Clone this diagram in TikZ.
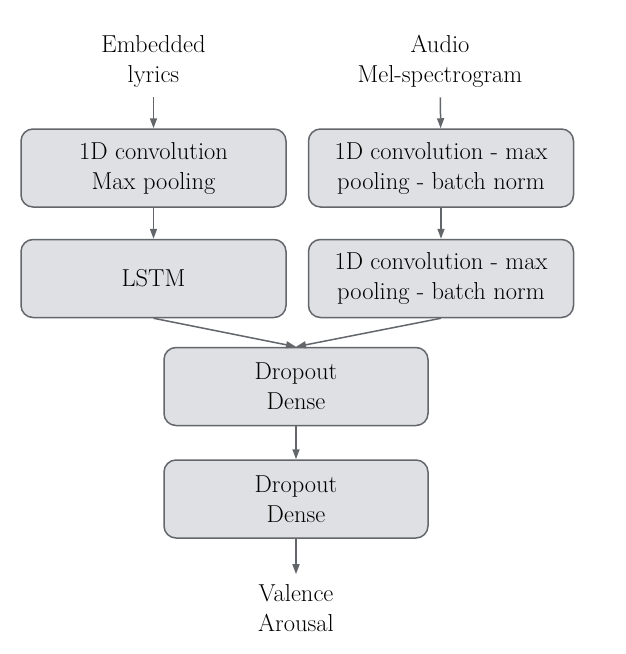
\documentclass[tikz,border=0pt]{standalone}
\usetikzlibrary{arrows.meta,positioning}
\definecolor{NetGray}{HTML}{63666B}
\definecolor{NetFill}{HTML}{DFE0E3}

\begin{document}
\begin{tikzpicture}[
    x=1pt,y=1pt,
    font=\fontsize{24.5}{30}\selectfont,
    blk/.style={rounded corners=12pt,draw=NetGray,line width=1.5pt,fill=NetFill,minimum width=265pt,minimum height=78pt,align=center,inner sep=0pt},
    lbl/.style={align=center,inner xsep=0pt,inner ysep=10pt},
    arr/.style={-{Triangle[length=10pt,width=7pt]},line width=1.5pt,NetGray}
  ]
    \useasboundingbox (0,0) rectangle (626,-654);
    % two input branches
    \node[blk] (conv) at (153.5,-168) {1D convolution\\Max pooling};
    \node[blk,right=21pt of conv] (melconv) {1D convolution - max\\pooling - batch norm};
    \node[blk,below=31pt of conv] (lstm) {LSTM};
    \node[blk,below=31pt of melconv] (melconvb) {1D convolution - max\\pooling - batch norm};
    \node[lbl] (lyrics) at (153.5,-61) {Embedded\\lyrics};
    \node[lbl] (audio) at (440,-61) {Audio\\Mel-spectrogram};
    % merged head
    \node[blk,minimum width=264pt] (dense) at (296,-386.5) {Dropout\\Dense};
    \node[blk,minimum width=264pt,below=33pt of dense] (denseb) {Dropout\\Dense};
    \node[lbl] (out) at (296,-608) {Valence\\Arousal};
    \draw[arr] (lyrics) -- (conv);
    \draw[arr] (conv) -- (lstm);
    \draw[arr] (audio) -- (melconv);
    \draw[arr] (melconv) -- (melconvb);
    \draw[arr] (lstm.south) -- (dense.north);
    \draw[arr] (melconvb.south) -- (dense.north);
    \draw[arr] (dense) -- (denseb);
    \draw[arr] (denseb) -- (out);
  \end{tikzpicture}
\end{document}
